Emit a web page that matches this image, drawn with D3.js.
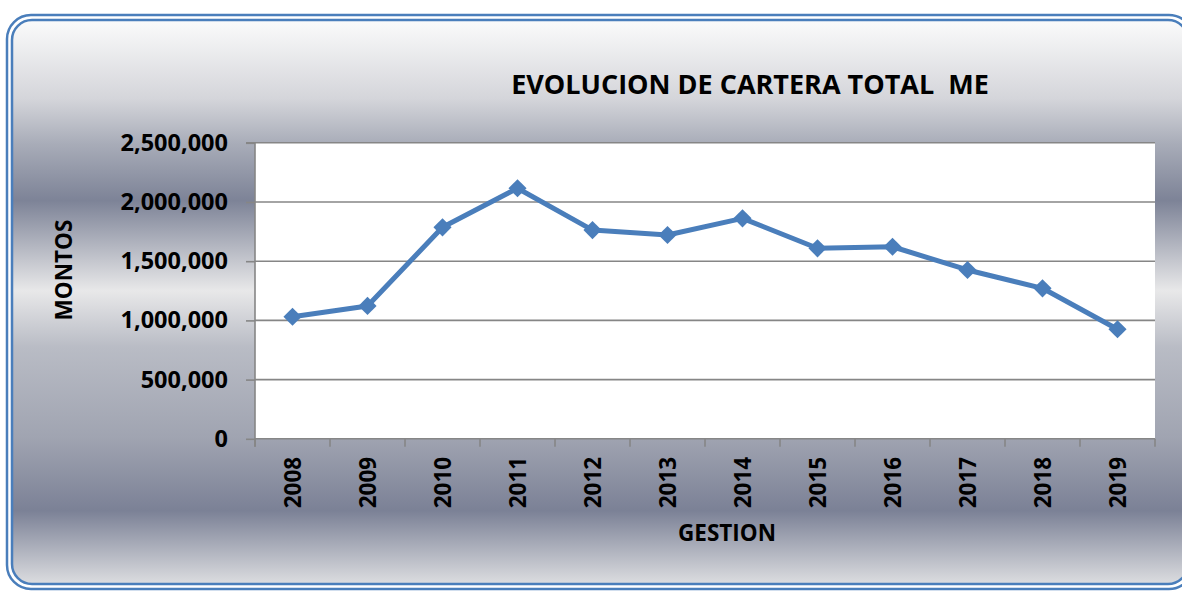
<!DOCTYPE html>
<html>
<head>
<meta charset="utf-8">
<script src="https://cdn.jsdelivr.net/npm/d3@7"></script>
<style>
  html, body { margin: 0; padding: 0; background: #ffffff; }
  svg { display: block; font-family: "Open Sans", sans-serif; }
</style>
</head>
<body>
<div id="chart"></div>
<script>
// data
var years = ["2008", "2009", "2010", "2011", "2012", "2013", "2014", "2015", "2016", "2017", "2018", "2019"];
var montos = [1031000, 1122000, 1786000, 2116000, 1763000, 1721000, 1862000, 1609000, 1622000, 1426000, 1271000, 925000];
var yTicks = [0, 500000, 1000000, 1500000, 2000000, 2500000];

var width = 1182;
var height = 591;
var margin = { top: 142.8, right: 27, bottom: 152.2, left: 255 };
var blue = "#4a7ebb";
var grid = "#868686";

var data = years.map((y, i) => ({ year: y, value: montos[i] }));

var svg = d3
  .select("#chart")
  .append("svg")
  .attr("width", width)
  .attr("height", height);

// background gradient
var defs = svg.append("defs");
var grad = defs
  .append("linearGradient")
  .attr("id", "bg")
  .attr("x1", 0).attr("y1", 0)
  .attr("x2", 0).attr("y2", 1);
[
  [0.0, "#fbfbfb"],
  [0.14, "#d4d5da"],
  [0.22, "#a8acb8"],
  [0.32, "#7d8397"],
  [0.48, "#e8e8e9"],
  [0.58, "#b9bcc5"],
  [0.74, "#a0a4b1"],
  [0.87, "#7b8196"],
  [1.0, "#dcdde0"]
].forEach((s) => grad.append("stop").attr("offset", s[0]).attr("stop-color", s[1]));

// double border
svg.append("rect")
  .attr("x", 7).attr("y", 15)
  .attr("width", 1186).attr("height", 574)
  .attr("rx", 24)
  .attr("fill", "#ffffff")
  .attr("stroke", blue)
  .attr("stroke-width", 2.5);

svg.append("rect")
  .attr("x", 12).attr("y", 20)
  .attr("width", 1176).attr("height", 564)
  .attr("rx", 20)
  .attr("fill", "url(#bg)")
  .attr("stroke", blue)
  .attr("stroke-width", 2.5);

var x = d3
  .scaleBand()
  .domain(years)
  .range([margin.left, width - margin.right]);
var y = d3
  .scaleLinear()
  .domain([0, 2500000])
  .range([height - margin.bottom, margin.top]);

// plot area
svg.append("rect")
  .attr("x", margin.left)
  .attr("y", margin.top)
  .attr("width", width - margin.right - margin.left)
  .attr("height", height - margin.bottom - margin.top)
  .attr("fill", "#ffffff");

// gridlines
svg.append("g")
  .selectAll("line")
  .data(yTicks.slice(1))
  .join("line")
  .attr("x1", margin.left)
  .attr("x2", width - margin.right)
  .attr("y1", (d) => y(d))
  .attr("y2", (d) => y(d))
  .attr("stroke", grid)
  .attr("stroke-width", 1.6);

// y axis
svg.append("g")
  .attr("transform", `translate(${margin.left},0)`)
  .call(d3.axisLeft(y).tickValues(yTicks).tickFormat(d3.format(",")).tickSize(9).tickPadding(18))
  .call((g) => g.select(".domain").attr("stroke", grid).attr("stroke-width", 1.6).attr("d", `M-9,${y(2500000)}H0V${y(0) + 8}`))
  .call((g) => g.selectAll(".tick line").attr("stroke", grid).attr("stroke-width", 1.6))
  .call((g) =>
    g.selectAll(".tick text")
      .attr("fill", "#000")
      .attr("font-size", 23.5)
      .attr("font-weight", "bold")
      .attr("font-family", "Open Sans")
  );

// x axis
var xAxisG = svg.append("g")
  .attr("transform", `translate(0,${y(0)})`)
  .call(d3.axisBottom(x).tickSize(0).tickPadding(0))
  .call((g) => g.select(".domain").attr("stroke", grid).attr("stroke-width", 1.6).attr("d", `M${margin.left},0H${width - margin.right}`));

xAxisG.selectAll(".tick text")
  .attr("fill", "#000")
  .attr("font-size", 22.5)
  .attr("font-weight", "bold")
  .attr("font-family", "Open Sans")
  .attr("text-anchor", "end")
  .attr("transform", "translate(0,18) rotate(-90)")
  .attr("x", 0)
  .attr("y", 0)
  .attr("dy", "0.36em");

// category tick marks between bands
xAxisG.append("g")
  .selectAll("line")
  .data(years.concat(["end"]))
  .join("line")
  .attr("x1", (d) => (d === "end" ? width - margin.right : x(d)))
  .attr("x2", (d) => (d === "end" ? width - margin.right : x(d)))
  .attr("y1", 0)
  .attr("y2", 8)
  .attr("stroke", grid)
  .attr("stroke-width", 1.6);

// line + markers
var line = d3
  .line()
  .x((d) => x(d.year) + x.bandwidth() / 2)
  .y((d) => y(d.value));

svg.append("path")
  .datum(data)
  .attr("d", line)
  .attr("fill", "none")
  .attr("stroke", blue)
  .attr("stroke-width", 5)
  .attr("stroke-linejoin", "round");

svg.append("g")
  .selectAll("path")
  .data(data)
  .join("path")
  .attr("d", d3.symbol(d3.symbolSquare, 165))
  .attr("transform", (d) => `translate(${x(d.year) + x.bandwidth() / 2},${y(d.value)}) rotate(45)`)
  .attr("fill", blue);

// titles
svg.append("text")
  .attr("x", 750)
  .attr("y", 94)
  .attr("text-anchor", "middle")
  .attr("font-size", 27)
  .attr("font-weight", "bold")
  .attr("fill", "#000")
  .style("white-space", "pre")
  .attr("xml:space", "preserve")
  .text("EVOLUCION DE CARTERA TOTAL  ME");

svg.append("text")
  .attr("transform", "translate(64,270) rotate(-90)")
  .attr("text-anchor", "middle")
  .attr("dy", "0.36em")
  .attr("font-size", 22.5)
  .attr("font-weight", "bold")
  .attr("fill", "#000")
  .text("MONTOS");

svg.append("text")
  .attr("x", 727)
  .attr("y", 541)
  .attr("text-anchor", "middle")
  .attr("font-size", 22.5)
  .attr("font-weight", "bold")
  .attr("fill", "#000")
  .text("GESTION");
</script>
</body>
</html>
